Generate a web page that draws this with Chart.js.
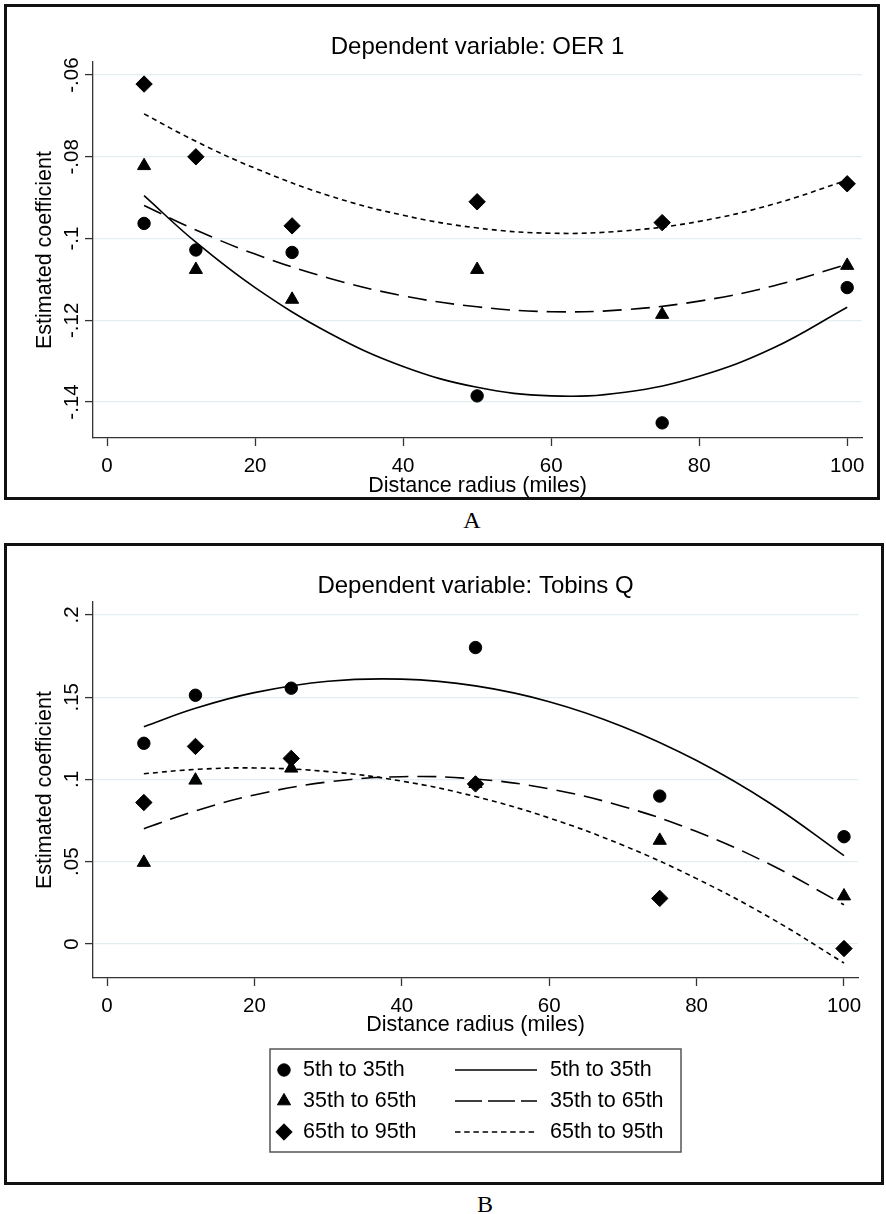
<!DOCTYPE html>
<html><head><meta charset="utf-8">
<script src="https://cdn.jsdelivr.net/npm/chart.js@4.4.1/dist/chart.umd.min.js"></script>
<style>
html,body{margin:0;padding:0;background:#fff;}
body{width:886px;height:1214px;position:relative;overflow:hidden;font-family:"Liberation Sans",Arial,sans-serif;}
.panel{position:absolute;box-sizing:border-box;border:3px solid #111;background:#fff;}
#pA{left:4px;top:4px;width:876px;height:496px;}
#pB{left:4px;top:543px;width:880px;height:642px;}
.panel canvas{display:block;}
.lab{position:absolute;width:100px;text-align:center;font-family:"Liberation Serif","Times New Roman",serif;font-size:24px;line-height:24px;color:#000;}
</style></head>
<body>
<div class="panel" id="pA"><canvas id="cA" width="870" height="490"></canvas></div>
<div class="lab" style="left:422px;top:508px;">A</div>
<div class="panel" id="pB"><canvas id="cB" width="874" height="636"></canvas></div>
<div class="lab" style="left:435px;top:1192px;">B</div>
<script>
// ---------- data ----------
const distances = [5, 12, 25, 50, 75, 100];
const xTicks = [0, 20, 40, 60, 80, 100];
const seriesLabels = ['5th to 35th', '35th to 65th', '65th to 95th'];
const fitX = [5, 12, 20, 30, 40, 50, 60, 70, 80, 90, 100];

// Panel A: Dependent variable OER 1
const oer_5_35  = [-0.0963, -0.1028, -0.1034, -0.1385, -0.1451, -0.1120];
const oer_35_65 = [-0.0822, -0.1076, -0.1149, -0.1076, -0.1186, -0.1066];
const oer_65_95 = [-0.0622, -0.0800, -0.0969, -0.0910, -0.0961, -0.0866];
const oerFit_5_35  = [-0.0895, -0.1009, -0.1120, -0.1231, -0.1313, -0.1364, -0.1385, -0.1376, -0.1337, -0.1268, -0.1168];
const oerFit_35_65 = [-0.0919, -0.0979, -0.1038, -0.1097, -0.1140, -0.1167, -0.1179, -0.1174, -0.1153, -0.1116, -0.1063];
const oerFit_65_95 = [-0.0695, -0.0762, -0.0828, -0.0895, -0.0943, -0.0974, -0.0987, -0.0981, -0.0958, -0.0916, -0.0857];
const oerYTicks = [-0.14, -0.12, -0.10, -0.08, -0.06];
const oerYTickLabels = ['-.14', '-.12', '-.1', '-.08', '-.06'];

// Panel B: Dependent variable Tobins Q
const tq_5_35  = [0.1220, 0.1512, 0.1555, 0.1802, 0.0899, 0.0652];
const tq_35_65 = [0.0495, 0.0995, 0.1068, 0.0975, 0.0629, 0.0291];
const tq_65_95 = [0.0860, 0.1201, 0.1128, 0.0973, 0.0277, -0.0028];
const tqFit_5_35  = [0.1321, 0.1433, 0.1528, 0.1597, 0.1610, 0.1569, 0.1473, 0.1321, 0.1115, 0.0854, 0.0537];
const tqFit_35_65 = [0.0700, 0.0809, 0.0906, 0.0985, 0.1017, 0.1003, 0.0943, 0.0836, 0.0683, 0.0483, 0.0238];
const tqFit_65_95 = [0.1035, 0.1061, 0.1070, 0.1048, 0.0990, 0.0896, 0.0766, 0.0600, 0.0397, 0.0159, -0.0116];
const tqYTicks = [0, 0.05, 0.10, 0.15, 0.20];
const tqYTickLabels = ['0', '.05', '.1', '.15', '.2'];

// ---------- styling ----------
const FONT = '"Liberation Sans", Arial, Helvetica, sans-serif';
const AXIS = '#333';
const GRID = '#e4edf0';
const markerStyles = [
  {pointStyle: 'circle', pointRadius: 6.2},
  {pointStyle: 'triangle', pointRadius: 7.6},
  {pointStyle: 'rectRot', pointRadius: 8.2}
];
const lineDashes = [[], [19, 9], [5, 4]];
const legendDashes = [[], [27, 6], [5.5, 3.7]];

const pts = (xs, ys) => xs.map((x, i) => ({x: x, y: ys[i]}));

function buildDatasets(markers, fits) {
  const ds = [];
  fits.forEach((f, i) => ds.push({
    label: seriesLabels[i], data: pts(fitX, f), showLine: true,
    borderColor: '#000', backgroundColor: '#000', borderWidth: 1.6,
    borderDash: lineDashes[i], pointRadius: 0, pointHoverRadius: 0, tension: 0.4, fill: false
  }));
  markers.forEach((m, i) => ds.push({
    label: seriesLabels[i], data: pts(distances, m), showLine: false,
    pointStyle: markerStyles[i].pointStyle, pointRadius: markerStyles[i].pointRadius,
    pointHoverRadius: markerStyles[i].pointRadius,
    backgroundColor: '#000', borderColor: '#000', borderWidth: 1
  }));
  return ds;
}

const decor = {
  id: 'decor',
  afterDraw(chart, args, o) {
    const {ctx, chartArea: ca, scales} = chart;
    ctx.save();
    ctx.fillStyle = '#000';
    ctx.font = o.titleSize + 'px ' + FONT;
    ctx.textAlign = 'center';
    ctx.textBaseline = 'alphabetic';
    ctx.fillText(o.title, (ca.left + ca.right) / 2, o.titleBaseline);
    ctx.font = o.tickSize + 'px ' + FONT;
    o.yTicks.forEach((v, i) => {
      const y = scales.y.getPixelForValue(v);
      ctx.save();
      ctx.translate(ca.left - o.yLabelGap, y);
      ctx.rotate(-Math.PI / 2);
      ctx.fillText(o.yTickLabels[i], 0, 0);
      ctx.restore();
    });
    const L = o.legend;
    if (L) {
      ctx.lineWidth = 1.5;
      ctx.strokeStyle = '#555';
      ctx.strokeRect(L.x, L.y, L.w, L.h);
      const lines = chart.data.datasets.filter(d => d.showLine);
      const marks = chart.data.datasets.filter(d => !d.showLine);
      ctx.font = L.size + 'px ' + FONT;
      ctx.textAlign = 'left';
      ctx.textBaseline = 'middle';
      marks.forEach((m, i) => {
        const cy = L.rowY[i];
        ctx.fillStyle = '#000';
        ctx.strokeStyle = '#000';
        ctx.lineWidth = 1;
        ctx.setLineDash([]);
        Chart.helpers.drawPoint(ctx, {pointStyle: m.pointStyle, radius: m.pointRadius, rotation: 0, borderWidth: 1}, L.markerX, cy);
        ctx.fillText(m.label, L.text1X, cy);
        ctx.beginPath();
        ctx.lineWidth = lines[i].borderWidth;
        ctx.setLineDash(legendDashes[i]);
        ctx.moveTo(L.lineX1, cy);
        ctx.lineTo(L.lineX2, cy);
        ctx.stroke();
        ctx.setLineDash([]);
        ctx.fillText(lines[i].label, L.text2X, cy);
      });
    }
    ctx.restore();
  }
};

function makeChart(id, cfg) {
  return new Chart(document.getElementById(id), {
    type: 'scatter',
    data: {datasets: buildDatasets(cfg.markers, cfg.fits)},
    plugins: [decor],
    options: {
      responsive: false, animation: false, devicePixelRatio: 1, events: [],
      layout: {padding: cfg.padding},
      plugins: {
        legend: {display: false}, tooltip: {enabled: false}, title: {display: false},
        decor: {
          title: cfg.title, titleSize: 24, titleBaseline: 47, tickSize: 20.5,
          yTicks: cfg.yTicks, yTickLabels: cfg.yTickLabels, yLabelGap: 15, legend: cfg.legend
        }
      },
      scales: {
        x: {
          type: 'linear', position: 'bottom', min: cfg.xMin, max: cfg.xMax,
          afterBuildTicks: s => { s.ticks = xTicks.map(v => ({value: v})); },
          afterFit: s => { s.height = cfg.xHeight; },
          ticks: {color: '#000', font: {family: FONT, size: 20.5, lineHeight: 1.2}, padding: 7.6, maxRotation: 0, autoSkip: false,
                  callback: v => String(v)},
          grid: {drawOnChartArea: false, drawTicks: true, tickLength: 8, color: AXIS, tickColor: AXIS, tickWidth: 1.3},
          border: {display: true, color: AXIS, width: 1.3},
          title: {display: true, text: 'Distance radius (miles)', color: '#000',
                  font: {family: FONT, size: 21.5, lineHeight: 1}, padding: {top: 0, bottom: 0}}
        },
        y: {
          type: 'linear', position: 'left', min: cfg.yMin, max: cfg.yMax,
          afterBuildTicks: s => { s.ticks = cfg.yTicks.map(v => ({value: v})); },
          afterFit: s => { s.width = 86; },
          ticks: {display: false},
          grid: {drawOnChartArea: true, drawTicks: true, tickLength: 8, color: GRID, lineWidth: 1.2, tickColor: AXIS, tickWidth: 1.3},
          border: {display: true, color: AXIS, width: 1.3},
          title: {display: true, text: 'Estimated coefficient', color: '#000',
                  font: {family: FONT, size: 21.5, lineHeight: 1.2}, padding: {top: 25.6, bottom: 0}}
        }
      }
    }
  });
}

makeChart('cA', {
  title: 'Dependent variable: OER 1',
  markers: [oer_5_35, oer_35_65, oer_65_95],
  fits: [oerFit_5_35, oerFit_35_65, oerFit_65_95],
  yTicks: oerYTicks, yTickLabels: oerYTickLabels,
  xMin: -1.9, xMax: 102, yMin: -0.1488, yMax: -0.0568,
  padding: {left: 0, top: 55, right: 15, bottom: 0}, xHeight: 59
});

makeChart('cB', {
  title: 'Dependent variable: Tobins Q',
  markers: [tq_5_35, tq_35_65, tq_65_95],
  fits: [tqFit_5_35, tqFit_35_65, tqFit_65_95],
  yTicks: tqYTicks, yTickLabels: tqYTickLabels,
  xMin: -1.9, xMax: 101.9, yMin: -0.0207, yMax: 0.2079,
  padding: {left: 0, top: 56, right: 23, bottom: 146}, xHeight: 58,
  legend: {x: 263, y: 503, w: 411, h: 103, rowY: [524, 555, 586], size: 21.5,
           markerX: 277, text1X: 296, lineX1: 448, lineX2: 530, text2X: 543}
});
</script>
</body></html>
